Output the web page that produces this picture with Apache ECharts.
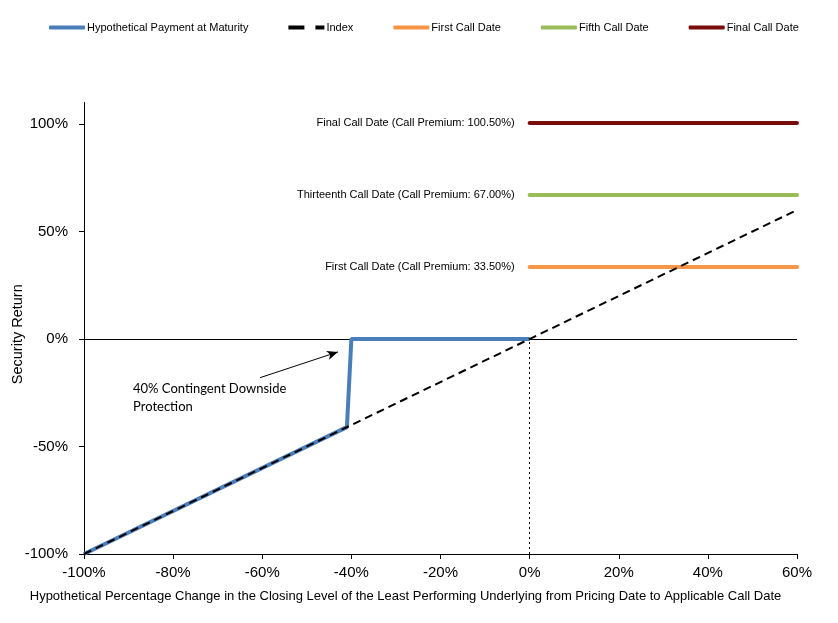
<!DOCTYPE html>
<html lang="en">
<head>
<meta charset="UTF-8">
<script src="https://cdn.jsdelivr.net/npm/echarts@6/dist/echarts.min.js"></script>
<style>
  html, body { margin: 0; padding: 0; background: #fff; }
  #main { width: 838px; height: 623px; }
</style>
</head>
<body>
<div id="main"></div>
<script>
// x: % change of least performing underlying, y: security return (%)
var paymentPts = [[-100, -100], [-41, -41], [-40, 0], [0, 0]];
var indexPts = [[-100, -100], [60, 60]];
var callRange = [0, 60];
var firstCall = 33.5;
var thirteenthCall = 67.0;
var finalCall = 100.5;
var yTicks = [-100, -50, 0, 50, 100];
var callLabels = [
  'First Call Date (Call Premium: 33.50%)',
  'Thirteenth Call Date (Call Premium: 67.00%)',
  'Final Call Date (Call Premium: 100.50%)'
];
var arrowFrom = [-60.5, -18];
var arrowTo = [-43, -6];
var noteAt = [-89, -19];

var narrow = '"Liberation Sans", Arial, sans-serif';
var arial = '"Liberation Sans", Arial, sans-serif';

function callSeries(name, level, color, label) {
  return {
    name: name,
    type: 'line',
    symbol: 'none',
    lineStyle: { color: color, width: 4, cap: 'round' },
    itemStyle: { color: color },
    data: [[callRange[0], level], [callRange[1], level]],
    markPoint: {
      silent: true, symbol: 'circle', symbolSize: 0,
      data: [{ coord: [callRange[0], level] }],
      label: {
        show: true, position: 'left', distance: 15, formatter: label,
        color: '#000', fontFamily: narrow, fontSize: 11
      }
    },
    z: 3
  };
}

var myChart = echarts.init(document.getElementById('main'));
var option = {
  animation: false,
  backgroundColor: '#fff',
  legend: {
    left: 44, top: 17, width: 820,
    itemWidth: 36, itemHeight: 4, itemGap: 40,
    textStyle: { fontFamily: narrow, fontSize: 11, color: '#000', padding: [0, 0, 0, -3] },
    data: [
      { name: 'Hypothetical Payment at Maturity', icon: 'roundRect' },
      { name: 'Index', icon: 'path://M0,0h16v4h-16z M27,0h9v4h-9z' },
      { name: 'First Call Date', icon: 'roundRect' },
      { name: 'Fifth Call Date', icon: 'roundRect' },
      { name: 'Final Call Date', icon: 'roundRect' }
    ]
  },
  grid: { left: 84, right: 41, top: 102.5, bottom: 69, outerBoundsMode: 'none', containLabel: false },
  xAxis: {
    type: 'value', min: -100, max: 60, interval: 20,
    name: 'Hypothetical Percentage Change in the Closing Level of the Least Performing Underlying from Pricing Date to Applicable Call Date',
    nameLocation: 'middle', nameGap: 36,
    nameTextStyle: { fontFamily: arial, fontSize: 13, color: '#000', padding: [0, 70, 0, 0] },
    axisLine: { onZero: false, lineStyle: { color: '#000', width: 1 } },
    axisTick: { length: 5, lineStyle: { color: '#000' } },
    axisLabel: { formatter: '{value}%', color: '#000', fontFamily: arial, fontSize: 15, margin: 11 },
    splitLine: { show: false }
  },
  yAxis: {
    type: 'value', min: -100, max: 110,
    name: 'Security Return', nameLocation: 'middle', nameGap: 59, nameMoveOverlap: false,
    nameTextStyle: { fontFamily: arial, fontSize: 14.5, color: '#000', padding: [0, 12, 0, 0] },
    axisLine: { show: true, onZero: false, lineStyle: { color: '#000', width: 1 } },
    axisTick: { show: true, length: 5, customValues: yTicks, lineStyle: { color: '#000' } },
    axisLabel: { customValues: yTicks, formatter: '{value}%', color: '#000', fontFamily: arial, fontSize: 15, margin: 16 },
    splitLine: { show: false }
  },
  series: [
    {
      name: 'Hypothetical Payment at Maturity',
      type: 'line', symbol: 'none',
      lineStyle: { color: '#4A7EBB', width: 4 },
      itemStyle: { color: '#4A7EBB' },
      data: paymentPts,
      z: 3,
      markLine: {
        silent: true, symbol: 'none', label: { show: false },
        data: [
          [{ coord: [-100, 0], lineStyle: { color: '#000', width: 1, type: 'solid' } }, { coord: [60, 0] }],
          [{ coord: [0, -100], lineStyle: { color: '#000', width: 1, type: [2, 3] } }, { coord: [0, 0] }],
          [{ coord: arrowFrom, symbol: 'none', lineStyle: { color: '#000', width: 1, type: 'solid' } },
           { coord: arrowTo, symbol: 'arrow', symbolSize: [7, 11] }]
        ],
        z: 1
      },
      markPoint: {
        silent: true, symbol: 'circle', symbolSize: 0,
        data: [{ coord: noteAt }],
        label: {
          show: true, position: 'inside', align: 'left', verticalAlign: 'top',
          formatter: '40% Contingent Downside\nProtection',
          color: '#000', fontFamily: 'Lato, "Open Sans", sans-serif', fontSize: 13, lineHeight: 18
        }
      }
    },
    {
      name: 'Index',
      type: 'line', symbol: 'none',
      lineStyle: { color: '#000', width: 2, type: [8, 5] },
      itemStyle: { color: '#000' },
      data: indexPts,
      z: 4
    },
    callSeries('First Call Date', firstCall, '#F79646', callLabels[0]),
    callSeries('Fifth Call Date', thirteenthCall, '#9BBB59', callLabels[1]),
    callSeries('Final Call Date', finalCall, '#7B0C0C', callLabels[2])
  ]
};
myChart.setOption(option);
</script>
</body>
</html>
